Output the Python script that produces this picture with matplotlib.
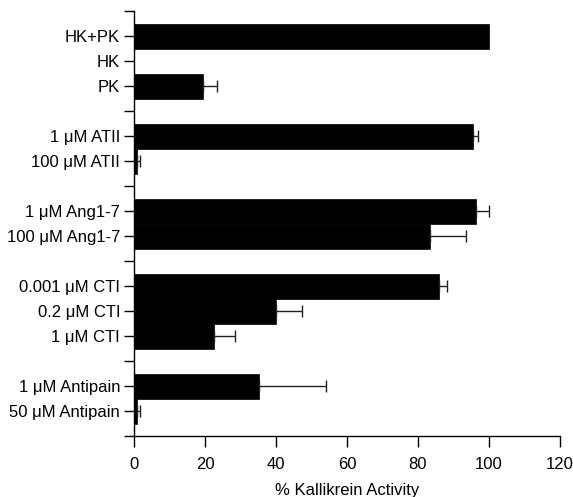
import numpy as np
from matplotlib import pyplot as plt

plt.rcParams['font.family'] = ['Liberation Sans', 'DejaVu Sans']

# data
labels = ['HK+PK', 'HK', 'PK',
          '1 \u03bcM ATII', '100 \u03bcM ATII',
          '1 \u03bcM Ang1-7', '100 \u03bcM Ang1-7',
          '0.001 \u03bcM CTI', '0.2 \u03bcM CTI', '1 \u03bcM CTI',
          '1 \u03bcM Antipain', '50 \u03bcM Antipain']
groups = [3, 2, 2, 3, 2]
activity = [100.0, 0.0, 19.4, 95.5, 0.7, 96.5, 83.5, 86.0, 40.0, 22.4, 35.1, 0.8]
sem = [0.0, 0.0, 3.9, 1.5, 1.1, 3.5, 10.0, 2.3, 7.4, 6.0, 19.0, 0.9]

# bar positions: one slot per bar, plus an empty separator slot between groups
pos = []
seps = [0]
slot = 1
for n in groups:
    pos.extend(range(slot, slot + n))
    slot += n
    seps.append(slot)
    slot += 1
pos = np.array(pos, dtype=float)
activity = np.array(activity)
sem = np.array(sem)

fig = plt.figure(figsize=(5.73, 4.97), dpi=100)
ax = fig.add_axes((0.234, 0.1227, 0.743, 0.8551))

ax.barh(pos, activity, height=1.0, color='black', edgecolor='black', linewidth=0.5)
has_err = sem > 0
ax.errorbar(activity[has_err], pos[has_err], xerr=[np.zeros(has_err.sum()), sem[has_err]],
            fmt='none', ecolor='#222222', elinewidth=1.0, capsize=4, capthick=1.0)

ax.set_ylim(seps[-1], 0)
ax.set_xlim(0, 120)
ax.set_xticks(np.arange(0, 121, 20))

ticks = list(pos) + seps
ticklabels = labels + [''] * len(seps)
ax.set_yticks(ticks)
ax.set_yticklabels(ticklabels, fontsize=12)

ax.tick_params(axis='x', direction='out', length=8, width=1.0, labelsize=12, pad=7)
ax.tick_params(axis='y', direction='out', length=7, width=1.0, pad=3)

for side in ['top', 'right']:
    ax.spines[side].set_visible(False)
ax.spines['left'].set_linewidth(1.0)
ax.spines['bottom'].set_linewidth(1.0)

ax.set_xlabel('% Kallikrein Activity', fontsize=12, labelpad=8)

plt.savefig('out.png', dpi=100)
